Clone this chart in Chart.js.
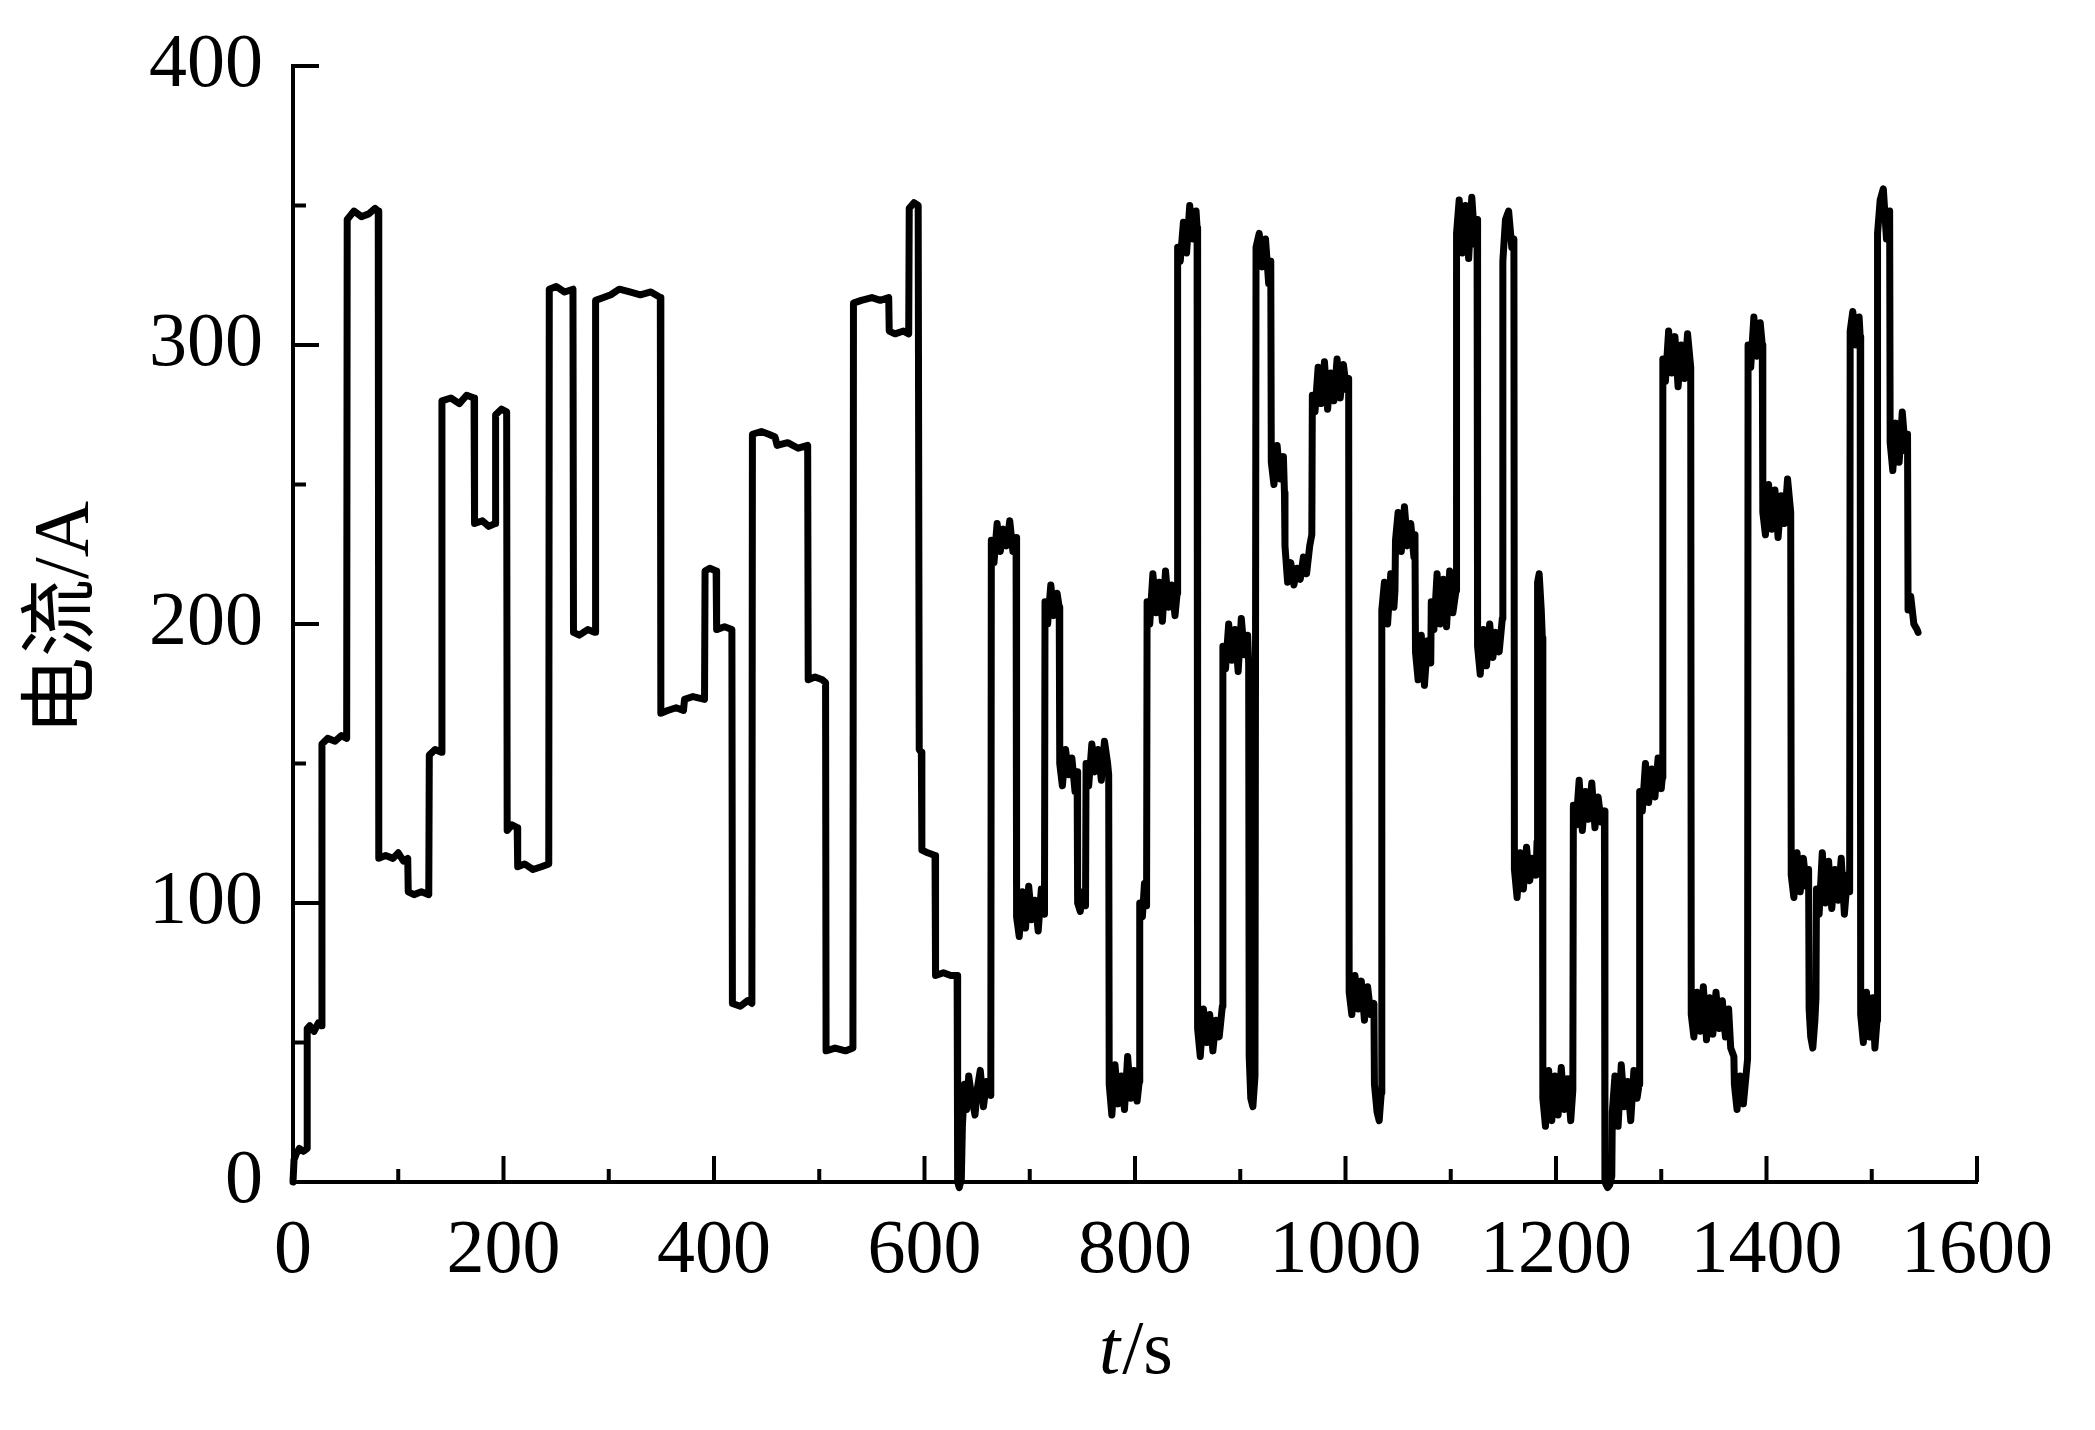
<!DOCTYPE html>
<html>
<head>
<meta charset="utf-8">
<script src="https://cdn.jsdelivr.net/npm/chart.js@4.4.1/dist/chart.umd.min.js"></script>
<style>
  html, body { margin: 0; padding: 0; background: #fff; }
  #wrap { width: 2095px; height: 1430px; }
</style>
</head>
<body>
<div id="wrap"><canvas id="chart" width="2095" height="1430"></canvas></div>
<script>
// 电流 vs 时间, [t(s), I(A)]
const cycleA = [
  [0,0],[1,8],[3,10],[6,12],[10,11],[13.5,12],
  [13.5,55],[16,56],[20,54],[24,57],[27,56],
  [27.5,157],[33,159],[40,158],[46,160],[51,159],
  [51.5,345],[58,348],[65,346],[72,347],[78,349],[81,348],
  [81.5,116],[88,117],[95,116],[100,118],[105,115],[109,116],
  [109.5,104],[115,103],[122,104],[129,103],
  [129.5,153],[135,155],[141,154],
  [141.5,280],[150,281],[158,279],[165,282],[172,281],
  [172.5,236],[180,237],[186,235],[192,236],
  [192.5,275],[198,277],[203,276],
  [203.5,126],[208,128],[213,127],
  [213.5,113],[220,114],[228,112],[236,113],[243,114],
  [243.5,320],[250,321],[258,319],[266,320],
  [266.5,197],[272,196],[280,198],[287,197],
  [287.5,316],[295,317],[302,318],[310,320],[320,319],[330,318],[340,319],[349,317],
  [349.5,168],[356,169],[364,170],[371,169],[372,173],[380,174],[391,173],
  [391.5,219],[396,220],[402,219],
  [402.5,198],[410,199],[417,198],
  [417.5,64],[425,63],[432,65],[436,64],
  [436.5,268],[445,269],[452,268],[458,267],[460,264],[470,265],[480,263],[489,264],
  [489.5,180],[496,181],[503,180],[506,179],
  [506.5,47],[515,48],[525,47],[532,48],
  [532.5,315],[540,316],[550,317],[558,316],[566,317],
  [566.5,305],[572,304],[580,305],[585,304],
  [585.5,349],[590,351],[594,350],
  [595,155],[597,154],[597.5,119],[603,118],[610,117],
  [610.5,74],[618,75],[625,74],[631,74]
];
const cycleB = [
  [631.5,0],[633,-2],[635,1],
  [636,20],[638,35],[640,26],[642,38],[645,30],[648,24],[650,33],[653,40],[656,27],[659,36],[663,31],
  [663.5,230],[666,222],[669,236],[672,226],[675,234],[678,228],[681,237],[684,226],[687,231],
  [687.5,95],[690,88],[693,104],[696,91],[699,106],[702,94],[705,101],[708,90],[711,105],[714,96],
  [714.5,208],[717,200],[720,214],[723,203],[726,211],[728,206],
  [728.5,150],[731,142],[734,155],[737,146],[740,152],[743,140],[745,147],
  [745.5,100],[748,97],[750,104],[753,99],
  [753.5,150],[756,142],[759,157],[762,147],[765,155],[768,144],[771,158],[774,150],[775,146],
  [775.5,35],[778,24],[781,42],[784,28],[787,38],[790,26],[793,45],[796,30],[799,40],[802,29],[804,36],
  [804.5,100],[807,95],[809,107],[811,99],
  [811.5,208],[814,200],[817,218],[820,204],[823,215],[826,201],[829,219],[832,206],[835,214],[838,203],[840,211],
  [840.5,335],[843,330],[846,344],[849,333],[852,350],[855,338],[858,348],[859,342],
  [859.5,55],[862,45],[865,62],[868,50],[871,60],[874,47],[877,58],[880,52],[883,63],
  [883.5,192],[886,184],[889,200],[892,187],[895,198],[898,183],[901,202],[904,189],[907,196],[908,186],
  [908.5,45],[910,30],[912,27],[914,38],
  [915,335],[918,340],[921,328],[924,338],[927,322],[929,330],
  [929.5,258],[932,250],[935,264],[938,252],[941,260],[942,247],
  [942.5,228],[945,215],[948,222],[951,214],[954,220],[957,216],[960,224],[963,218],[966,228],[968,232],
  [968.5,282],[971,276],[974,292],[977,279],[980,294],[983,277],[986,290],[989,280],[992,295],[995,281],[998,293],[1001,284],[1003,288]
];
const cycleC = [
  [1003.5,68],[1006,60],[1009,74],[1012,62],[1015,72],[1018,58],[1021,70],[1024,60],[1027,64],
  [1027.5,35],[1030,25],[1032,22],[1034,32],
  [1034.5,205],[1037,215],[1040,200],[1043,218],[1046,206],[1047,212],
  [1047.5,230],[1050,240],[1053,226],[1056,242],[1059,228],[1062,236],[1065,224],[1066,232],
  [1066.5,190],[1069,180],[1072,196],[1075,178],[1078,194],[1081,186],
  [1081.5,208],[1084,198],[1087,218],[1090,200],[1093,216],[1096,199],[1099,219],[1102,204],[1105,212],
  [1105.5,340],[1108,352],[1111,333],[1114,350],[1117,331],[1120,353],[1123,336],[1125,345],
  [1125.5,192],[1128,182],[1131,198],[1134,185],[1137,200],[1140,188],[1143,197],[1146,190],[1149,202],
  [1149.5,330],[1152,345],[1155,348],[1158,335],[1160,338],
  [1160.5,112],[1163,102],[1166,118],[1169,105],[1172,120],[1175,108],[1178,116],[1181,110],[1182,122],
  [1182.5,215],[1184,218],[1186,205],[1187,195],
  [1187.5,30],[1190,20],[1193,40],[1196,22],[1199,38],[1202,24],[1205,41],[1208,26],[1211,37],[1214,22],[1216,33],
  [1216.5,135],[1219,128],[1222,144],[1225,126],[1228,140],[1231,130],[1234,143],[1237,127],[1240,138],[1243,129],[1246,133],
  [1246.5,0],[1249,-2],[1251,-1],[1253,2],
  [1253.5,25],[1256,38],[1259,20],[1262,42],[1265,27],[1268,36],[1271,22],[1274,40],[1277,30],[1279,35],
  [1279.5,140],[1282,133],[1285,150],[1288,136],[1291,148],[1294,138],[1297,152],[1300,141],[1301,145],
  [1301.5,295],[1304,287],[1307,305],[1310,290],[1313,303],[1316,285],[1319,300],[1322,288],[1325,304],[1328,292],
  [1328.5,60],[1331,52],[1334,68],[1337,54],[1340,70],[1343,51],[1346,66],[1349,53],[1352,68],[1355,55],[1358,65],[1361,52],[1364,62],[1366,48],[1369,45],
  [1369.5,35],[1372,26],[1375,38],[1378,28],[1381,40],[1382,44],
  [1382.5,300],[1385,292],[1388,310],[1391,296],[1394,308],[1396,300],
  [1396.5,240],[1399,232],[1402,250],[1405,234],[1408,248],[1411,231],[1414,246],[1417,236],[1420,252],[1423,240],
  [1423.5,110],[1426,102],[1429,118],[1432,104],[1435,116],[1438,106],[1440,112],
  [1440.5,62],[1442,52],[1444,48],[1446,58],[1447,66],
  [1447.5,105],[1450,96],[1453,118],[1456,100],[1459,115],[1462,98],[1465,112],[1468,101],[1471,116],[1474,96],[1477,110],[1479,104],
  [1479.5,305],[1482,312],[1485,300],[1488,310],[1489,303],
  [1489.5,60],[1492,50],[1495,68],[1498,52],[1501,66],[1503,48],[1505,58],
  [1505.5,340],[1508,352],[1511,356],[1514,338],[1517,348],
  [1517.5,265],[1520,255],[1523,272],[1526,258],[1529,276],[1532,262],[1534,268],
  [1534.5,205],[1537,210],[1540,200],[1543,198],[1544,197]
];

const xTicks = [0, 200, 400, 600, 800, 1000, 1200, 1400, 1600];
const yTicks = [0, 100, 200, 300, 400];

const FONT = '"Liberation Serif", "Times New Roman", serif';
const CJK_FONT = '"Liberation Serif", "Noto Sans CJK SC", serif';

// inward major/minor ticks + axis titles
const axisDecor = {
  id: 'axisDecor',
  afterDraw(chart) {
    const { ctx, chartArea, scales } = chart;
    const xs = scales.x, ys = scales.y;
    ctx.save();
    ctx.strokeStyle = '#000';
    ctx.lineWidth = 4;
    ctx.lineCap = 'butt';
    for (let v = 0; v <= 1600; v += 100) {
      const px = xs.getPixelForValue(v);
      const len = v % 200 === 0 ? 26 : 13;
      ctx.beginPath();
      ctx.moveTo(px, chartArea.bottom);
      ctx.lineTo(px, chartArea.bottom - len);
      ctx.stroke();
    }
    for (let v = 0; v <= 400; v += 50) {
      const py = ys.getPixelForValue(v);
      const len = v % 100 === 0 ? 26 : 13;
      ctx.beginPath();
      ctx.moveTo(chartArea.left, py);
      ctx.lineTo(chartArea.left + len, py);
      ctx.stroke();
    }

    ctx.fillStyle = '#000';
    ctx.textBaseline = 'alphabetic';
    // x title: italic t + /s
    const bx = (chartArea.left + chartArea.right) / 2;
    const by = chartArea.bottom + 191;
    ctx.font = 'italic 76px ' + FONT;
    const wT = ctx.measureText('t').width;
    ctx.font = '76px ' + FONT;
    const wS = ctx.measureText('/s').width;
    let x0 = bx - (wT + wS) / 2;
    ctx.textAlign = 'left';
    ctx.font = 'italic 76px ' + FONT;
    ctx.fillText('t', x0, by);
    ctx.font = '76px ' + FONT;
    ctx.fillText('/s', x0 + wT + 2, by);

    // y title
    ctx.translate(chartArea.left - 226, (chartArea.top + chartArea.bottom) / 2 - 6);
    ctx.rotate(-Math.PI / 2);
    ctx.textAlign = 'center';
    ctx.textBaseline = 'middle';
    ctx.font = '78px ' + CJK_FONT;
    ctx.fillText('电流/A', 0, 0);
    ctx.restore();
  }
};

const toPts = arr => arr.map(p => ({ x: p[0], y: p[1] }));

new Chart(document.getElementById('chart').getContext('2d'), {
  type: 'line',
  data: {
    datasets: [{
      data: [...toPts(cycleA), ...toPts(cycleB), ...toPts(cycleC)],
      borderColor: '#000',
      borderWidth: 7,
      pointRadius: 0,
      tension: 0,
      borderJoinStyle: 'round',
      borderCapStyle: 'round',
      clip: false,
      fill: false
    }]
  },
  options: {
    responsive: false,
    animation: false,
    devicePixelRatio: 1,
    layout: { padding: { left: 0, right: 118, top: 66, bottom: 0 } },
    plugins: { legend: { display: false }, tooltip: { enabled: false } },
    scales: {
      x: {
        type: 'linear',
        min: 0, max: 1600,
        afterFit(s) { s.height = 248; s.paddingLeft = 0; s.paddingRight = 0; },
        afterBuildTicks(s) { s.ticks = xTicks.map(v => ({ value: v })); },
        grid: { display: false, drawTicks: false },
        border: { display: true, color: '#000', width: 4 },
        ticks: { color: '#000', font: { family: FONT, size: 76 }, padding: 24, maxRotation: 0, autoSkip: false,
                 callback: v => String(v) }
      },
      y: {
        min: 0, max: 400,
        afterFit(s) { s.width = 293; s.paddingTop = 0; s.paddingBottom = 0; },
        afterBuildTicks(s) { s.ticks = yTicks.map(v => ({ value: v })); },
        grid: { display: false, drawTicks: false },
        border: { display: true, color: '#000', width: 4 },
        ticks: { color: '#000', font: { family: FONT, size: 76 }, padding: 30, callback: v => String(v) }
      }
    }
  },
  plugins: [axisDecor]
});
</script>
</body>
</html>
